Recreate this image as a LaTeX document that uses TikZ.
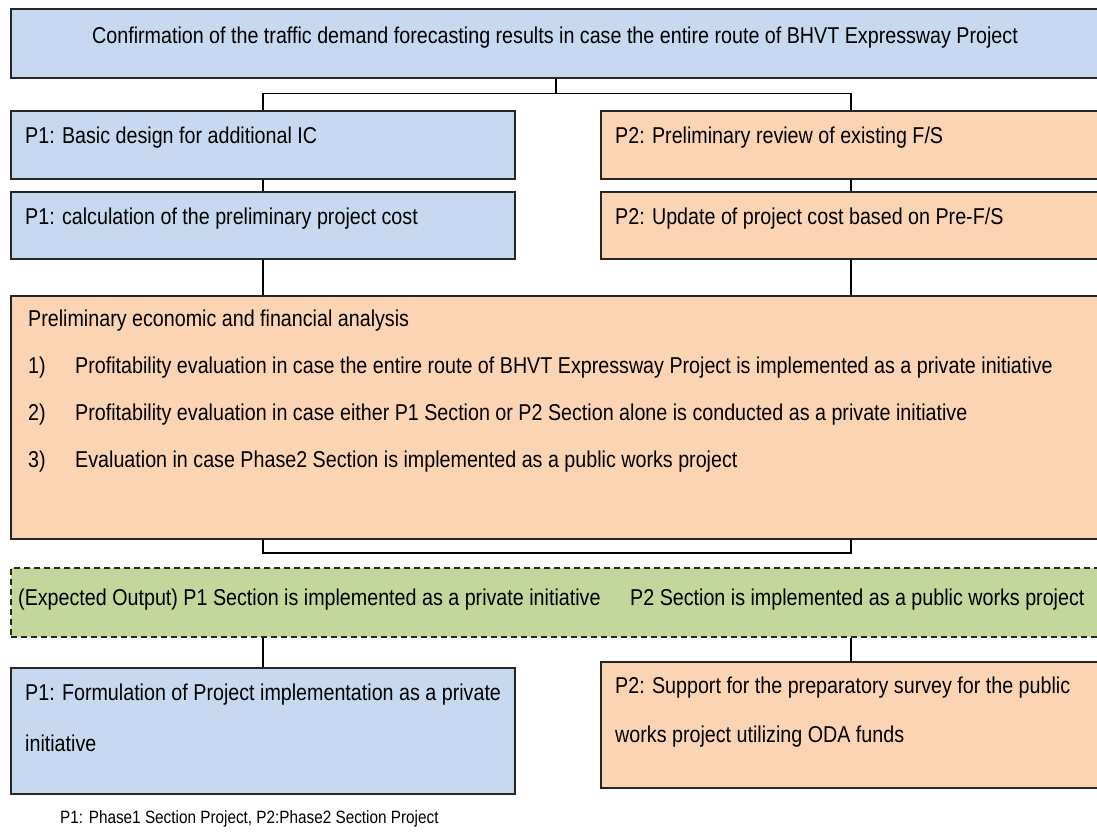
\documentclass[tikz,border=0pt]{standalone}
\usepackage{fontspec}
\setmainfont{Liberation Sans}[FakeStretch=0.86]
\usetikzlibrary{positioning}
\definecolor{boxblue}{HTML}{C6D9F1}
\definecolor{boxorange}{HTML}{FBD4B4}
\definecolor{boxgreen}{HTML}{C3D69B}

\tikzset{
  task/.style={draw=black!85,line width=1.8pt,anchor=north west,inner sep=0pt},
  link/.style={black,line width=1.3pt},
  txt/.style={anchor=west,inner sep=0pt}
}

\begin{document}
\begin{tikzpicture}[x=1pt,y=-1pt,font=\fontsize{22.9}{27}\selectfont]
  \useasboundingbox (0,0) rectangle (1097,834);
  \clip (0,0) rectangle (1097,834);

  % top
  \node[task,fill=boxblue,minimum width=1090pt,minimum height=69pt] (confirm) at (10,8) {};
  \node[inner sep=0pt] (confirm-t) at (555,38)
    {Confirmation of the traffic demand forecasting results in case the entire route of BHVT Expressway Project};

  % P1 / P2 tasks
  \node[task,fill=boxblue,minimum width=504pt,minimum height=68pt] (design) at (10,110) {};
  \node[txt] (design-t) at (25,138) {P1: Basic design for additional IC};
  \node[task,fill=boxorange,minimum width=500pt,minimum height=68pt] (review) at (600,110) {};
  \node[txt] (review-t) at (615,138) {P2: Preliminary review of existing F/S};

  \node[task,fill=boxblue,minimum width=504pt,minimum height=67pt] (cost1) at (10,191) {};
  \node[txt] (cost1-t) at (25,219) {P1: calculation of the preliminary project cost};
  \node[task,fill=boxorange,minimum width=500pt,minimum height=67pt] (cost2) at (600,191) {};
  \node[txt] (cost2-t) at (615,219) {P2: Update of project cost based on Pre-F/S};

  % analysis
  \node[task,fill=boxorange,minimum width=1090pt,minimum height=243pt] (analysis) at (10,295) {};
  \node[txt] (head) at (28,321) {Preliminary economic and financial analysis};
  \node[txt] (n1) at (28,368) {1)};
  \node[txt] (i1) at (75,368) {Profitability evaluation in case the entire route of BHVT Expressway Project is implemented as a private initiative};
  \node[txt] (n2) at (28,415) {2)};
  \node[txt] (i2) at (75,415) {Profitability evaluation in case either P1 Section or P2 Section alone is conducted as a private initiative};
  \node[txt] (n3) at (28,462) {3)};
  \node[txt] (i3) at (75,462) {Evaluation in case Phase2 Section is implemented as a public works project};

  % expected output
  \node[task,draw=black!85,dash pattern=on 6pt off 4pt,fill=boxgreen,
    minimum width=1090pt,minimum height=69pt] (output) at (10,567) {};
  \node[txt] (out1) at (18,600) {(Expected Output) P1 Section is implemented as a private initiative};
  \node[txt] (out2) at (630,600) {P2 Section is implemented as a public works project};

  % final tasks
  \node[task,fill=boxblue,minimum width=504pt,minimum height=126pt] (private) at (10,667) {};
  \node[txt] (private-t1) at (25,695) {P1: Formulation of Project implementation as a private};
  \node[txt] (private-t2) at (25,743) {initiative};
  \node[task,fill=boxorange,minimum width=500pt,minimum height=126pt] (oda) at (600,661) {};
  \node[txt] (oda-t1) at (615,688) {P2: Support for the preparatory survey for the public};
  \node[txt] (oda-t2) at (615,737) {works project utilizing ODA funds};

  \node[txt,font=\fontsize{17.8}{21}\selectfont] (note) at (60,819)
    {P1: Phase1 Section Project, P2:Phase2 Section Project};

  % connectors
  \draw[link] (confirm.south) -- ++(0,15) coordinate (split);
  \draw[link] (design.north) |- (split) -| (review.north);
  \draw[link] (design) -- (cost1);
  \draw[link] (review) -- (cost2);
  \draw[link] (cost1.south) -- (cost1.south |- analysis.north);
  \draw[link] (cost2.south) -- (cost2.south |- analysis.north);
  \draw[link,line width=2.2pt] (analysis.south -| cost1.south) -- ++(0,13)
    -| (analysis.south -| cost2.south);
  \draw[link] (output.south -| private.north) -- (private.north);
  \draw[link] (output.south -| oda.north) -- (oda.north);
\end{tikzpicture}
\end{document}
